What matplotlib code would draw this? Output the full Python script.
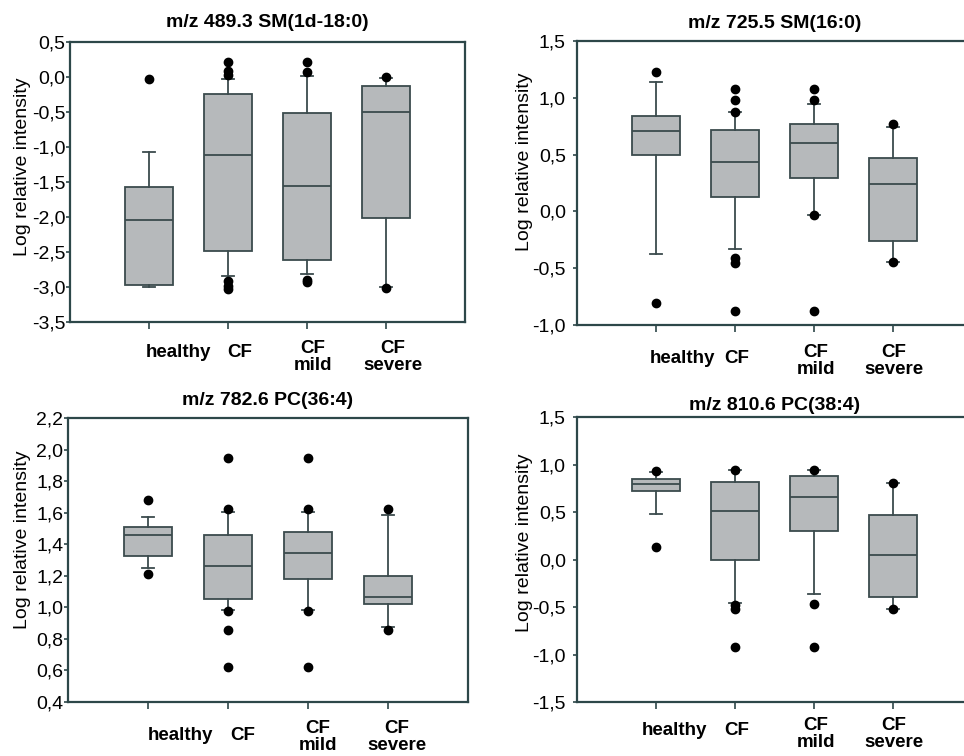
import matplotlib
matplotlib.use("Agg")
import matplotlib.pyplot as plt

plt.rcParams['font.family'] = ['Liberation Sans', 'DejaVu Sans']

groups = ["healthy", "CF", "CF\nmild", "CF\nsevere"]

# panel 1: m/z 489.3 SM(1d-18:0)
p1_title = "m/z 489.3 SM(1d-18:0)"
p1_q1 = [-2.97, -2.48, -2.62, -2.01]
p1_med = [-2.04, -1.11, -1.56, -0.50]
p1_q3 = [-1.57, -0.24, -0.51, -0.13]
p1_lo = [-3.00, -2.85, -2.82, -3.00]
p1_hi = [-1.07, -0.03, 0.01, -0.01]
p1_fliers = [[-0.03], [0.21, 0.08, 0.03, -2.92, -2.99, -3.03],
             [0.21, 0.07, -2.90, -2.93], [0.00, -3.01]]
p1_yticks = [-3.5, -3.0, -2.5, -2.0, -1.5, -1.0, -0.5, 0.0, 0.5]

# panel 2: m/z 725.5 SM(16:0)
p2_title = "m/z 725.5 SM(16:0)"
p2_q1 = [0.495, 0.128, 0.295, -0.258]
p2_med = [0.709, 0.439, 0.603, 0.243]
p2_q3 = [0.838, 0.720, 0.773, 0.471]
p2_lo = [-0.379, -0.335, -0.033, -0.449]
p2_hi = [1.14, 0.876, 0.943, 0.744]
p2_fliers = [[1.227, -0.81], [1.078, 0.984, 0.876, -0.414, -0.452, -0.874],
             [1.078, 0.984, -0.033, -0.874], [0.77, -0.449]]
p2_yticks = [-1.0, -0.5, 0.0, 0.5, 1.0, 1.5]

# panel 3: m/z 782.6 PC(36:4)
p3_title = "m/z 782.6 PC(36:4)"
p3_q1 = [1.327, 1.053, 1.180, 1.021]
p3_med = [1.460, 1.260, 1.344, 1.063]
p3_q3 = [1.511, 1.456, 1.475, 1.200]
p3_lo = [1.249, 0.985, 0.985, 0.873]
p3_hi = [1.573, 1.602, 1.602, 1.587]
p3_fliers = [[1.682, 1.211], [1.944, 1.625, 0.975, 0.858, 0.62],
             [1.944, 1.625, 0.975, 0.62], [1.625, 0.858]]
p3_yticks = [0.4, 0.6, 0.8, 1.0, 1.2, 1.4, 1.6, 1.8, 2.0, 2.2]

# panel 4: m/z 810.6 PC(38:4)
p4_title = "m/z 810.6 PC(38:4)"
p4_q1 = [0.723, -0.005, 0.300, -0.392]
p4_med = [0.797, 0.515, 0.656, 0.047]
p4_q3 = [0.846, 0.814, 0.881, 0.473]
p4_lo = [0.476, -0.456, -0.364, -0.519]
p4_hi = [0.916, 0.944, 0.944, 0.804]
p4_fliers = [[0.934, 0.128], [0.944, -0.48, -0.52, -0.92],
             [0.944, -0.47, -0.92], [0.804, -0.519]]
p4_yticks = [-1.5, -1.0, -0.5, 0.0, 0.5, 1.0, 1.5]

EDGE = "#3b4b4d"
FILL = "#b6b9bb"
SPINE = "#2d4749"


def make_stats(q1, med, q3, lo, hi, fl):
    return [dict(q1=a, med=b, q3=c, whislo=d, whishi=e, fliers=f)
            for a, b, c, d, e, f in zip(q1, med, q3, lo, hi, fl)]


def panel(rect, title, stats, yticks, lab_dx, lab_dy, ylab_x, ylab_y, tick_pad, title_pad):
    ax = fig.add_axes(rect)
    ax.bxp(stats, positions=range(len(groups)), widths=0.61, capwidths=0.15,
           patch_artist=True, manage_ticks=False,
           boxprops=dict(facecolor=FILL, edgecolor=EDGE, linewidth=1.3),
           medianprops=dict(color=EDGE, linewidth=1.3),
           whiskerprops=dict(color=EDGE, linewidth=1.3),
           capprops=dict(color=EDGE, linewidth=1.3),
           flierprops=dict(marker='o', markerfacecolor='black',
                           markeredgecolor='black', markersize=6))
    ax.set_xlim(-1, 4)
    ax.set_ylim(yticks[0], yticks[-1])
    ax.set_yticks(yticks)
    ax.set_yticklabels([f"{t:.1f}".replace(".", ",") for t in yticks])
    ax.set_xticks(range(len(groups)))
    ax.set_xticklabels([])
    ax.tick_params(axis='y', length=3, width=1.2, color=SPINE,
                   pad=tick_pad, labelsize=14)
    ax.tick_params(axis='x', length=5, width=1.2, color=SPINE)
    for s in ax.spines.values():
        s.set_color(SPINE)
        s.set_linewidth(1.6)
    for i, g in enumerate(groups):
        ax.annotate(g, xy=(i, 0), xycoords=('data', 'axes fraction'),
                    xytext=(lab_dx[i], -lab_dy[i]), textcoords='offset pixels',
                    ha='center', va='center', fontsize=13.5, fontweight='bold',
                    linespacing=1.0)
    ax.set_title(title, fontsize=14, fontweight='bold', pad=title_pad)
    ax.set_ylabel("Log relative intensity", fontsize=14)
    ax.yaxis.set_label_coords(ylab_x, ylab_y)
    return ax


fig = plt.figure(figsize=(9.64, 7.56), dpi=100)

panel([0.0726, 0.5741, 0.4098, 0.3704], p1_title,
      make_stats(p1_q1, p1_med, p1_q3, p1_lo, p1_hi, p1_fliers), p1_yticks,
      [29, 12, 6, 7], [31, 31, 35, 35], -0.098, 0.553, 0.3, 11)
panel([0.5985, 0.5701, 0.4098, 0.3757], p2_title,
      make_stats(p2_q1, p2_med, p2_q3, p2_lo, p2_hi, p2_fliers), p2_yticks,
      [26, 2, 2, 1], [33, 33, 36, 36], -0.112, 0.574, 5, 9)
panel([0.0705, 0.0714, 0.4149, 0.3757], p3_title,
      make_stats(p3_q1, p3_med, p3_q3, p3_lo, p3_hi, p3_fliers), p3_yticks,
      [32, 15, 10, 9], [33, 33, 35, 35], -0.093, 0.57, 0.3, 9)
panel([0.5985, 0.0714, 0.4098, 0.3770], p4_title,
      make_stats(p4_q1, p4_med, p4_q3, p4_lo, p4_hi, p4_fliers), p4_yticks,
      [18, 2, 2, 1], [28, 28, 32, 32], -0.112, 0.56, 5, 5)

fig.savefig("out.png", dpi=100)
